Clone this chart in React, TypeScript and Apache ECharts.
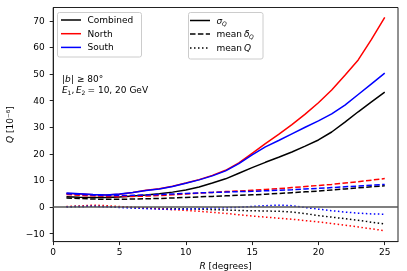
import React, { useEffect, useRef } from "react";
import * as echarts from "echarts";

const R = [1,2,3,4,5,6,7,8,9,10,11,12,13,14,15,16,17,18,19,20,21,22,23,24,25];

// sigma_Q (solid)
const sigmaCombined = [3.9,3.7,3.6,3.6,3.8,4.1,4.5,5.0,5.6,6.4,7.5,9.0,10.6,12.7,14.8,16.8,18.7,20.7,22.9,25.2,28.2,31.9,35.8,39.5,43.2];
const sigmaNorth = [5.1,4.9,4.6,4.5,4.8,5.5,6.3,6.9,7.8,9.0,10.3,11.9,13.8,16.6,20.2,23.8,27.3,31.0,34.9,39.2,44.0,49.5,55.3,63.0,71.3];
const sigmaSouth = [5.3,5.0,4.7,4.5,4.9,5.5,6.2,6.8,7.7,8.9,10.2,11.7,13.6,16.3,19.6,22.6,25.0,27.5,30.0,32.4,35.0,38.3,42.3,46.3,50.3];

// mean delta_Q (dashed)
const deltaCombined = [3.4,3.2,3.0,2.9,2.9,3.0,3.1,3.2,3.4,3.6,3.8,4.0,4.2,4.4,4.6,4.8,5.1,5.4,5.7,6.0,6.4,6.8,7.2,7.6,8.0];
const deltaNorth = [4.7,4.4,4.2,4.0,3.9,4.0,4.1,4.3,4.6,4.9,5.2,5.5,5.8,6.0,6.3,6.6,6.9,7.3,7.7,8.1,8.5,9.0,9.5,10.1,10.7];
const deltaSouth = [5.0,4.8,4.5,4.3,4.3,4.4,4.5,4.7,4.9,5.1,5.3,5.5,5.6,5.8,5.9,6.1,6.3,6.5,6.8,7.0,7.3,7.6,7.9,8.2,8.5];

// mean Q (dotted)
const meanCombined = [0.1,0.2,0.3,0.2,0.0,-0.2,-0.4,-0.5,-0.6,-0.7,-0.8,-1.0,-1.1,-1.3,-1.4,-1.5,-1.6,-1.9,-2.5,-3.2,-3.8,-4.4,-5.0,-5.7,-6.4];
const meanNorth = [0.2,0.4,0.7,0.5,0.2,-0.1,-0.4,-0.7,-1.0,-1.3,-1.6,-2.0,-2.4,-2.9,-3.4,-3.8,-4.2,-4.6,-5.1,-5.6,-6.2,-6.8,-7.5,-8.2,-8.9];
const meanSouth = [0.1,0.2,0.3,0.1,-0.2,-0.4,-0.6,-0.8,-0.9,-0.8,-0.6,-0.4,-0.3,-0.1,0.2,0.5,0.7,0.5,-0.2,-0.8,-1.4,-1.9,-2.3,-2.6,-2.7];

const xTicks = [0, 5, 10, 15, 20, 25];
const yTicks = [-10, 0, 10, 20, 30, 40, 50, 60, 70];

const regionNames = ["Combined", "North", "South"];
const regionColors = ["#000000", "#ff0000", "#0000ff"];

const FONT = "DejaVu Sans";
const FS = 9;

export default function App() {
  const ref = useRef<HTMLDivElement>(null);
  useEffect(() => {
    if (!ref.current) return;
    const chart = echarts.init(ref.current, null, { renderer: "svg" });
    const groups = [
      [sigmaCombined, sigmaNorth, sigmaSouth],
      [deltaCombined, deltaNorth, deltaSouth],
      [meanCombined, meanNorth, meanSouth],
    ];
    const styles: any[] = ["solid", [5.5, 2.4], [1.5, 2.5]];
    const kinds = ["sigma", "delta", "mean"];
    const series: any[] = [];
    for (let r = 0; r < 3; r++) {
      for (let k = 0; k < 3; k++) {
        series.push({
          name: regionNames[r] + " " + kinds[k],
          type: "line",
          data: R.map((x, i) => [x, groups[k][r][i]]),
          showSymbol: false,
          symbol: "none",
          lineStyle: { color: regionColors[r], width: 1.5, type: styles[k] },
          z: 3,
        });
      }
    }
    series.push({
      name: "zero",
      type: "line",
      data: [],
      markLine: {
        silent: true,
        symbol: "none",
        label: { show: false },
        lineStyle: { color: "#555555", width: 1.5, type: "solid" },
        data: [{ yAxis: 0 }],
      },
      z: 2,
    });

    const legend1 = regionNames.map((n, i) => [
      { type: "line", shape: { x1: 61, y1: 20 + i * 13.7, x2: 81, y2: 20 + i * 13.7 }, style: { stroke: regionColors[i], lineWidth: 1.5 } },
      { type: "text", x: 87.5, y: 20 + i * 13.7, style: { text: n, font: `${FS}px "${FONT}"`, fill: "#000", verticalAlign: "middle" } },
    ]).flat();

    const ly = [20.5, 34, 48];
    const legend2: any[] = [
      { type: "line", shape: { x1: 190, y1: ly[0], x2: 210, y2: ly[0] }, style: { stroke: "#000", lineWidth: 1.5 } },
      { type: "line", shape: { x1: 190, y1: ly[1], x2: 210, y2: ly[1] }, style: { stroke: "#000", lineWidth: 1.5, lineDash: [5.5, 2.4] } },
      { type: "line", shape: { x1: 190, y1: ly[2], x2: 210, y2: ly[2] }, style: { stroke: "#000", lineWidth: 1.5, lineDash: [1.5, 2.5] } },
      { type: "text", x: 216.5, y: ly[0], style: { text: "σ", font: `italic ${FS}px "${FONT}"`, fill: "#000", verticalAlign: "middle" } },
      { type: "text", x: 222, y: ly[0] + 2.5, style: { text: "Q", font: `italic 6px "${FONT}"`, fill: "#000", verticalAlign: "middle" } },
      { type: "text", x: 216.5, y: ly[1], style: { text: "mean ", font: `${FS}px "${FONT}"`, fill: "#000", verticalAlign: "middle" } },
      { type: "text", x: 244, y: ly[1], style: { text: "δ", font: `italic ${FS}px "${FONT}"`, fill: "#000", verticalAlign: "middle" } },
      { type: "text", x: 249, y: ly[1] + 2.5, style: { text: "Q", font: `italic 6px "${FONT}"`, fill: "#000", verticalAlign: "middle" } },
      { type: "text", x: 216.5, y: ly[2], style: { text: "mean ", font: `${FS}px "${FONT}"`, fill: "#000", verticalAlign: "middle" } },
      { type: "text", x: 244, y: ly[2], style: { text: "Q", font: `italic ${FS}px "${FONT}"`, fill: "#000", verticalAlign: "middle" } },
    ];

    const annot: any[] = [
      { type: "text", x: 62, y: 79, style: { text: "|", font: `${FS}px "${FONT}"`, fill: "#000", verticalAlign: "middle" } },
      { type: "text", x: 65, y: 79, style: { text: "b", font: `italic ${FS}px "${FONT}"`, fill: "#000", verticalAlign: "middle" } },
      { type: "text", x: 71, y: 79, style: { text: "| ≥ 80°", font: `${FS}px "${FONT}"`, fill: "#000", verticalAlign: "middle" } },
      { type: "text", x: 62, y: 90, style: { text: "E", font: `italic ${FS}px "${FONT}"`, fill: "#000", verticalAlign: "middle" } },
      { type: "text", x: 67.5, y: 92, style: { text: "1", font: `6px "${FONT}"`, fill: "#000", verticalAlign: "middle" } },
      { type: "text", x: 71.5, y: 90, style: { text: ",", font: `${FS}px "${FONT}"`, fill: "#000", verticalAlign: "middle" } },
      { type: "text", x: 76, y: 90, style: { text: "E", font: `italic ${FS}px "${FONT}"`, fill: "#000", verticalAlign: "middle" } },
      { type: "text", x: 81.5, y: 92, style: { text: "2", font: `6px "${FONT}"`, fill: "#000", verticalAlign: "middle" } },
      { type: "text", x: 87.5, y: 90, style: { text: "= 10, 20 GeV", font: `${FS}px "${FONT}"`, fill: "#000", verticalAlign: "middle" } },
    ];

    chart.setOption({
      animation: false,
      textStyle: { fontFamily: FONT },
      grid: { left: 53.2, right: 9, top: 7.5, bottom: 29.4, show: true, borderColor: "#222", borderWidth: 1, backgroundColor: "transparent", outerBoundsMode: "none", containLabel: false },
      xAxis: {
        type: "value",
        min: 0,
        max: 26,
        splitLine: { show: false },
        axisLine: { show: true, onZero: false, lineStyle: { color: "#222", width: 1 } },
        axisTick: { show: true, inside: false, length: 3.5, lineStyle: { color: "#222" }, customValues: xTicks },
        axisLabel: { color: "#000", fontSize: FS, fontFamily: FONT, margin: 5.5, customValues: xTicks, formatter: (v: number) => String(v) },
        name: "{i|R} [degrees]",
        nameLocation: "middle",
        nameGap: 18,
        nameTextStyle: { color: "#000", fontSize: FS, fontFamily: FONT, rich: { i: { fontStyle: "italic", fontSize: FS, fontFamily: FONT, color: "#000" } } },
      },
      yAxis: {
        type: "value",
        min: -13,
        max: 75,
        splitLine: { show: false },
        axisLine: { show: true, onZero: false, lineStyle: { color: "#222", width: 1 } },
        axisTick: { show: true, inside: false, length: 3.5, lineStyle: { color: "#222" }, customValues: yTicks },
        axisLabel: { color: "#000", fontSize: FS, fontFamily: FONT, margin: 8.5, customValues: yTicks, formatter: (v: number) => (v < 0 ? "−" + Math.abs(v) : String(v)) },
        name: "{i|Q} [10⁻⁶]",
        nameLocation: "middle",
        nameGap: 26,
        nameTextStyle: { color: "#000", fontSize: FS, fontFamily: FONT, rich: { i: { fontStyle: "italic", fontSize: FS, fontFamily: FONT, color: "#000" } } },
      },
      series,
      graphic: [
        { type: "rect", shape: { x: 57.5, y: 12.5, width: 84, height: 44.5, r: 2 }, style: { fill: "rgba(255,255,255,0.8)", stroke: "#cccccc", lineWidth: 1 }, z: 10 },
        { type: "rect", shape: { x: 188.5, y: 12.5, width: 74.5, height: 46.5, r: 2 }, style: { fill: "rgba(255,255,255,0.8)", stroke: "#cccccc", lineWidth: 1 }, z: 10 },
        ...legend1.map((e: any) => ({ ...e, z: 11 })),
        ...legend2.map((e: any) => ({ ...e, z: 11 })),
        ...annot.map((e: any) => ({ ...e, z: 11 })),
      ],
    });
    return () => chart.dispose();
  }, []);
  return <div ref={ref} style={{ position: "fixed", left: 0, top: 0, width: 407, height: 271 }} />;
}
